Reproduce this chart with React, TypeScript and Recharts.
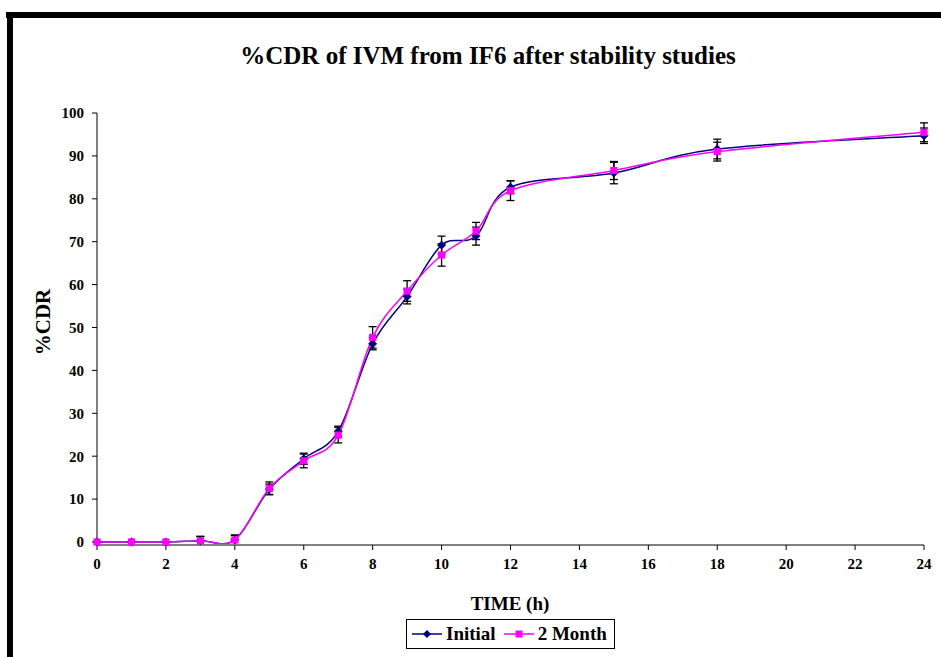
import React from 'react';
import { LineChart, Line, XAxis, YAxis, ErrorBar } from 'recharts';

const times = [0, 1, 2, 3, 4, 5, 6, 7, 8, 9, 10, 11, 12, 15, 18, 24];
const initial = [0, 0, 0, 0.3, 0.5, 12.3, 19.4, 25.8, 46.2, 57.2, 69.2, 71.3, 82.7, 86.0, 91.6, 94.7];
const initialErr = [0, 0, 0, 1.0, 1.1, 1.2, 1.3, 1.2, 1.4, 1.7, 2.1, 2.1, 1.5, 2.5, 2.3, 1.8];
const month2 = [0, 0, 0, 0.3, 0.5, 12.5, 18.9, 24.9, 47.7, 58.5, 66.9, 72.5, 81.9, 86.6, 91.0, 95.5];
const month2Err = [0, 0, 0, 1.0, 1.1, 1.5, 1.6, 1.8, 2.5, 2.4, 2.6, 2.0, 2.3, 2.1, 2.2, 2.2];
const xTicks = [0, 2, 4, 6, 8, 10, 12, 14, 16, 18, 20, 22, 24];
const yTicks = [0, 10, 20, 30, 40, 50, 60, 70, 80, 90, 100];

const data = times.map((t, i) => ({
  t,
  initial: initial[i],
  initialErr: initialErr[i],
  month2: month2[i],
  month2Err: month2Err[i],
}));

const NAVY = '#000080';
const MAGENTA = '#FF00FF';
const FONT = '"Liberation Serif", "Times New Roman", serif';

// Excel-like smoothed line (Catmull-Rom through the points)
function excelCurve(context: any) {
  let pts: [number, number][] = [];
  return {
    areaStart() {},
    areaEnd() {},
    lineStart() {
      pts = [];
    },
    point(x: number, y: number) {
      pts.push([+x, +y]);
    },
    lineEnd() {
      const n = pts.length;
      if (n === 0) return;
      context.moveTo(pts[0][0], pts[0][1]);
      if (n === 1) return;
      for (let i = 0; i < n - 1; i++) {
        const p0 = pts[i - 1] || pts[i];
        const p1 = pts[i];
        const p2 = pts[i + 1];
        const p3 = pts[i + 2] || pts[i + 1];
        const c1x = p1[0] + (p2[0] - p0[0]) / 6;
        const c1y = p1[1] + (p2[1] - p0[1]) / 6;
        const c2x = p2[0] - (p3[0] - p1[0]) / 6;
        const c2y = p2[1] - (p3[1] - p1[1]) / 6;
        context.bezierCurveTo(c1x, c1y, c2x, c2y, p2[0], p2[1]);
      }
    },
  };
}

const Diamond = (props: any) => {
  const { cx, cy, index } = props;
  if (cx == null || cy == null) return <g key={`dd-${index}`} />;
  const r = 4.2;
  return (
    <path
      key={`dd-${index}`}
      d={`M${cx},${cy - r}L${cx + r},${cy}L${cx},${cy + r}L${cx - r},${cy}Z`}
      fill={NAVY}
      stroke={NAVY}
      strokeWidth={0.5}
    />
  );
};

const Square = (props: any) => {
  const { cx, cy, index } = props;
  if (cx == null || cy == null) return <g key={`sq-${index}`} />;
  const h = 3.6;
  return <rect key={`sq-${index}`} x={cx - h} y={cy - h} width={2 * h} height={2 * h} fill={MAGENTA} />;
};

const tickStyle = { fontFamily: FONT, fontWeight: 'bold' as const, fontSize: 15, fill: '#000' };

export default function App() {
  return (
    <div style={{ position: 'absolute', left: 0, top: 0, width: 941, height: 657, background: '#fff', overflow: 'hidden' }}>
      <div style={{ position: 'absolute', left: 6, top: 12, width: 935, height: 6, background: '#000' }} />
      <div style={{ position: 'absolute', left: 7, top: 12, width: 6, height: 645, background: '#000' }} />
      <div
        style={{
          position: 'absolute',
          left: 0,
          width: 976,
          top: 42,
          textAlign: 'center',
          fontFamily: FONT,
          fontWeight: 'bold',
          fontSize: 25,
          lineHeight: '28px',
          color: '#000',
        }}
      >
        %CDR of IVM from IF6 after stability studies
      </div>
      <div style={{ position: 'absolute', left: 0, top: 0 }}>
        <LineChart width={941} height={657} data={data} margin={{ top: 113, right: 17, bottom: 82, left: 37 }}>
          <XAxis
            dataKey="t"
            type="number"
            domain={[0, 24]}
            ticks={xTicks}
            interval={0}
            height={30}
            tick={tickStyle}
            tickSize={5}
            tickMargin={8}
            axisLine={{ stroke: '#808080', strokeWidth: 2 }}
            tickLine={{ stroke: '#000' }}
          />
          <YAxis
            type="number"
            domain={[0, 100]}
            ticks={yTicks}
            interval={0}
            width={60}
            tick={tickStyle}
            tickSize={5}
            tickMargin={8}
            axisLine={{ stroke: '#000', strokeWidth: 1 }}
            tickLine={{ stroke: '#000' }}
          />
          <Line
            dataKey="initial"
            type={excelCurve as any}
            stroke={NAVY}
            strokeWidth={1.5}
            dot={Diamond}
            activeDot={false}
            isAnimationActive={false}
          >
            <ErrorBar dataKey="initialErr" direction="y" width={4} stroke="#000" strokeWidth={1.3} />
          </Line>
          <Line
            dataKey="month2"
            type={excelCurve as any}
            stroke={MAGENTA}
            strokeWidth={1.5}
            dot={Square}
            activeDot={false}
            isAnimationActive={false}
          >
            <ErrorBar dataKey="month2Err" direction="y" width={4} stroke="#000" strokeWidth={1.3} />
          </Line>
        </LineChart>
      </div>
      <div
        style={{
          position: 'absolute',
          left: 43,
          top: 322,
          transform: 'translate(-50%, -50%) rotate(-90deg)',
          fontFamily: FONT,
          fontWeight: 'bold',
          fontSize: 21,
          whiteSpace: 'nowrap',
          color: '#000',
        }}
      >
        %CDR
      </div>
      <div
        style={{
          position: 'absolute',
          left: 510,
          top: 604,
          transform: 'translate(-50%, -50%)',
          fontFamily: FONT,
          fontWeight: 'bold',
          fontSize: 19,
          whiteSpace: 'nowrap',
          color: '#000',
        }}
      >
        TIME (h)
      </div>
      <div
        style={{
          position: 'absolute',
          left: 406,
          top: 619,
          width: 207,
          height: 28,
          border: '1px solid #000',
          display: 'flex',
          alignItems: 'center',
          fontFamily: FONT,
          fontWeight: 'bold',
          fontSize: 19,
          color: '#000',
          whiteSpace: 'nowrap',
          background: '#fff',
        }}
      >
        <svg width={30} height={12} style={{ marginLeft: 5 }}>
          <line x1={0} y1={6} x2={30} y2={6} stroke={NAVY} strokeWidth={1.5} />
          <path d="M15,2L19,6L15,10L11,6Z" fill={NAVY} />
        </svg>
        <span style={{ marginLeft: 4 }}>Initial</span>
        <svg width={30} height={12} style={{ marginLeft: 8 }}>
          <line x1={0} y1={6} x2={30} y2={6} stroke={MAGENTA} strokeWidth={1.5} />
          <rect x={11.5} y={2.5} width={7} height={7} fill={MAGENTA} />
        </svg>
        <span style={{ marginLeft: 4 }}>2 Month</span>
      </div>
    </div>
  );
}
